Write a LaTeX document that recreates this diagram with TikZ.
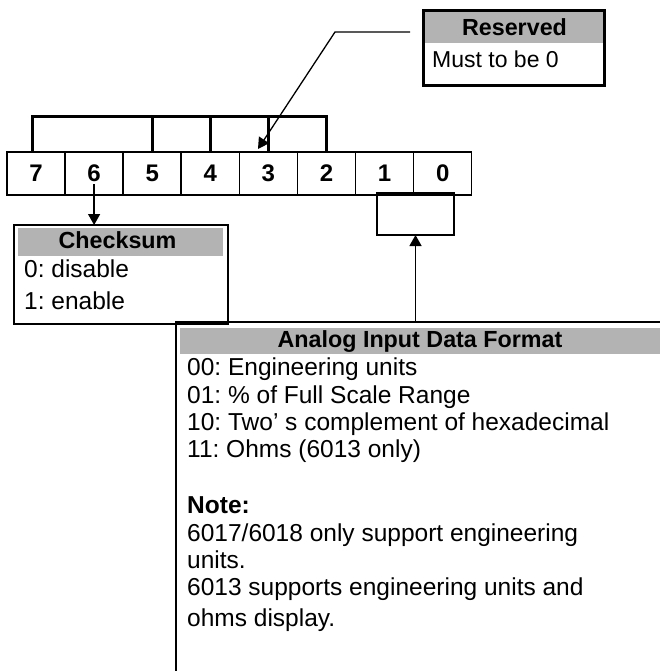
\documentclass[tikz,border=0pt]{standalone}
\usepackage{fontspec}
\setmainfont{Liberation Sans}
\usetikzlibrary{arrows.meta}
\definecolor{hdr}{RGB}{179,179,179}
\frenchspacing
\begin{document}
\begin{tikzpicture}[x=1pt,y=1pt,
  cell/.style={draw, line width=1.5pt, minimum width=58pt, minimum height=43pt, inner sep=0pt, outer sep=0pt,
               font=\fontsize{24}{24}\selectfont\bfseries, anchor=north west},
  box/.style={draw, line width=2pt, inner sep=0pt, outer sep=0pt, anchor=north west},
  txt/.style={anchor=base west, inner sep=0pt, font=\fontsize{24.5}{27}\selectfont},
  htxt/.style={anchor=base, inner sep=0pt, font=\fontsize{23.3}{27}\selectfont\bfseries},
  arr/.style={line width=1.3pt, -{Triangle[length=11pt,width=12pt]}},
  brk/.style={line width=3pt},
]
\useasboundingbox (0,0) rectangle (660,-671);
\clip (0,0) rectangle (660,-671);

% bit cells
\foreach \d [count=\i from 0] in {7,6,5,4,3,2,1,0}
  \node[cell] (b\d) at ({7+58.1*\i},-152) {\d};

% bracket over reserved bits
\draw[brk] ([xshift=-4pt]b7.north) -- ++(0,35) -| (b2.north);
\foreach \b in {b5,b4,b3}
  \draw[brk] (\b.north) -- ++(0,35);

% Reserved box
\fill[hdr] (424.5,-12.5) rectangle (602.5,-43);
\node[box, line width=3pt, minimum width=181pt, minimum height=75pt] (rsv) at (423,-11) {};
\node[htxt] (rsvh) at (514.5,-36) {Reserved};
\node[txt, font=\fontsize{23}{27}\selectfont] (rsvt) at (432,-68) {Must to be 0};

% leader to reserved bits
\coordinate (rl) at (410,-32);
\coordinate (rk) at (335,-32);
\coordinate (rtip) at (258,-149);
\draw[arr] (rl) -- (rk) -- (rtip);

% Checksum box
\fill[hdr] (18,-228) rectangle (223,-256);
\node[box, minimum width=214pt, minimum height=99pt] (chk) at (14,-225) {};
\node[htxt] (chkh) at (117.5,-248) {Checksum};
\node[txt] (chk0) at (24,-277) {0: disable};
\node[txt] (chk1) at (24,-309) {1: enable};
\draw[arr] ([yshift=11pt]b6.south) -- (b6.south |- chk.north);

% bits 1-0 group box
\node[box, minimum width=77pt, minimum height=42pt] (fmt) at (377,-193) {};

% Analog input data format box
\fill[hdr] (180,-328) rectangle (665,-354);
\node[box, minimum width=524pt, minimum height=400pt] (afmt) at (176,-322) {};
\draw[arr] (fmt.south |- afmt.north) -- (fmt.south);
\node[htxt] (afh) at (420,-347) {Analog Input Data Format};
\node[txt] (l1) at (187,-375) {00: Engineering units};
\node[txt] (l2) at (187,-403) {01: \% of Full Scale Range};
\node[txt] (l3) at (187,-430) {10: Two’ s complement of hexadecimal};
\node[txt] (l4) at (187,-457) {11: Ohms (6013 only)};
\node[txt, font=\fontsize{24.5}{27}\selectfont\bfseries] (l5) at (187,-513) {Note:};
\node[txt] (l6) at (187,-541) {6017/6018 only support engineering};
\node[txt] (l7) at (187,-568) {units.};
\node[txt] (l8) at (187,-595) {6013 supports engineering units and};
\node[txt] (l9) at (187,-626) {ohms display.};
\end{tikzpicture}
\end{document}
